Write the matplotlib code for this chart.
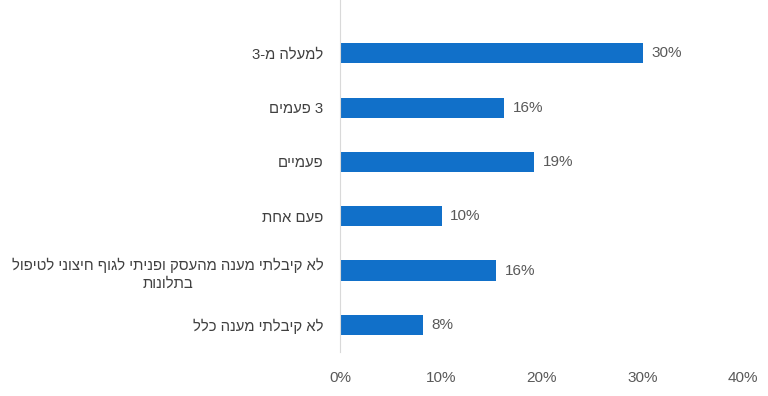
import numpy as np
import matplotlib
matplotlib.use("Agg")
import matplotlib.pyplot as plt

plt.rcParams['font.family'] = ['Liberation Sans', 'DejaVu Sans']

# labels in logical (reading) order, one list entry per line
labels = [
    ["למעלה מ-3"],
    ["3 פעמים"],
    ["פעמיים"],
    ["פעם אחת"],
    ["לא קיבלתי מענה מהעסק ופניתי לגוף חיצוני לטיפול", "בתלונות"],
    ["לא קיבלתי מענה כלל"],
]
values = [30.1, 16.3, 19.3, 10.1, 15.5, 8.2]
shown = ["30%", "16%", "19%", "10%", "16%", "8%"]
xticks = [0, 10, 20, 30, 40]

bar_color = '#1170c9'
text_color = '#404040'
tick_color = '#595959'


def visual(line):
    # no bidi support in matplotlib, so flip the hebrew for drawing
    return line[::-1]


fig = plt.figure(figsize=(7.68, 3.96), dpi=100)
ax = fig.add_axes([340 / 768, 44 / 396, 403 / 768, 352 / 396])

y = np.arange(len(values))
ax.barh(y, values, height=0.37, color=bar_color)

for i, (v, s) in enumerate(zip(values, shown)):
    ax.annotate(s, (v, i), xytext=(6, 0), textcoords='offset points',
                va='center', ha='left', fontsize=11, color=tick_color)

ax.set_xlim(0, 40)
ax.set_ylim(5.5, -0.98)
ax.set_xticks(xticks)
ax.set_xticklabels([f"{t}%" for t in xticks], fontsize=11, color=tick_color)
ax.set_yticks(y)
ax.set_yticklabels(["\n".join(visual(l) for l in lab) for lab in labels],
                   fontsize=10.7, color=text_color, multialignment='center',
                   linespacing=1.35)
ax.tick_params(axis='both', length=0)
ax.tick_params(axis='x', pad=14)
ax.tick_params(axis='y', pad=12)

for side in ['top', 'right', 'bottom']:
    ax.spines[side].set_visible(False)
ax.spines['left'].set_color('#d9d9d9')

fig.savefig('out.png', dpi=100)
